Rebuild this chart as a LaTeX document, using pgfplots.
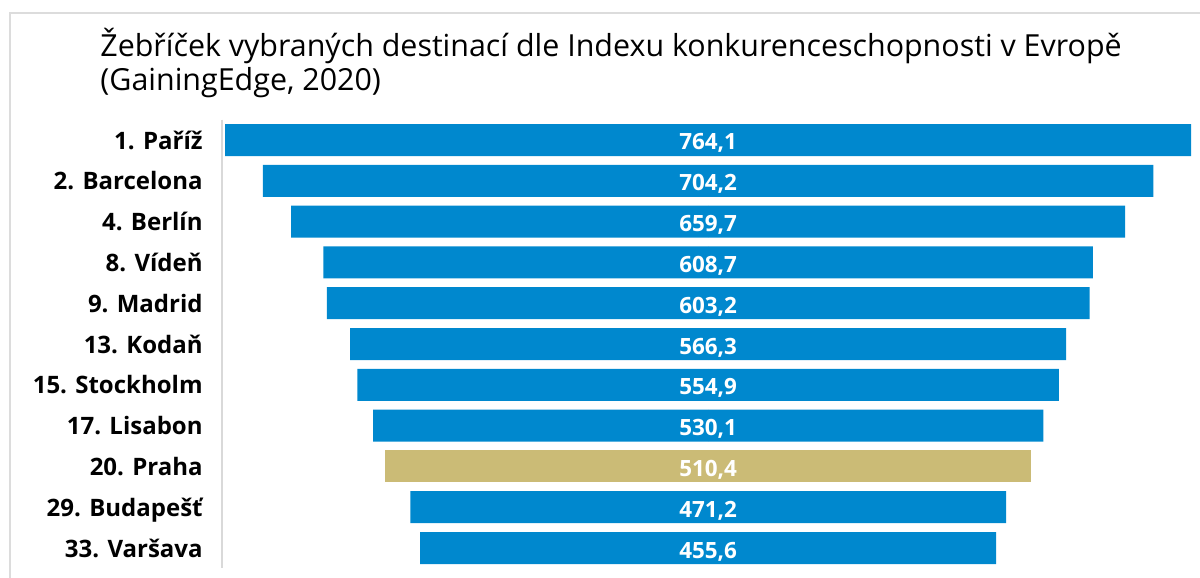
\documentclass[border=0pt]{standalone}
\usepackage{pgfplots}
\pgfplotsset{compat=1.18}
\usepackage{pgfplotstable}
\usepackage{fontspec}
\setmainfont{Open Sans}
\definecolor{barblue}{RGB}{0,136,206}
\definecolor{bargold}{RGB}{203,187,118}
\definecolor{framegray}{RGB}{220,220,220}
\definecolor{axisgray}{RGB}{217,217,217}
\pgfplotstableread{
i v
0 764.1
1 704.2
2 659.7
3 608.7
4 603.2
5 566.3
6 554.9
7 530.1
9 471.2
10 455.6
}\bluedata
\pgfplotstableread{
i v
8 510.4
}\golddata
\pgfplotstableread{
i v
0 764.1
1 704.2
2 659.7
3 608.7
4 603.2
5 566.3
6 554.9
7 530.1
8 510.4
9 471.2
10 455.6
}\alldata
\begin{document}
\begin{tikzpicture}
\useasboundingbox (0,0) rectangle (600pt,289pt);
\draw[framegray, line width=0.6pt] (5pt,0) -- (5pt,282.5pt) -- (600pt,282.5pt);
\node[anchor=base west, inner sep=0pt, font=\fontsize{15.2}{18}\selectfont] at (50pt,260.5pt) {Žebříček vybraných destinací dle Indexu konkurenceschopnosti v Evropě};
\node[anchor=base west, inner sep=0pt, font=\fontsize{15.2}{18}\selectfont] at (50pt,243.5pt) {(GainingEdge, 2020)};
\begin{axis}[
  at={(111pt,4.8pt)}, anchor=south west,
  scale only axis, width=489pt, height=224.4pt,
  xmin=-769, xmax=778, ymin=-0.5, ymax=10.5,
  y dir=reverse, clip=false,
  hide x axis,
  axis y line*=left,
  y axis line style={draw=axisgray, line width=1pt, -},
  ytick={0,...,10},
  yticklabels={1. Paříž, 2. Barcelona, 4. Berlín, 8. Vídeň, 9. Madrid, 13. Kodaň, 15. Stockholm, 17. Lisabon, 20. Praha, 29. Budapešť, 33. Varšava},
  major tick length=0pt,
  ytick style={draw=none},
  yticklabel style={font=\bfseries\fontsize{12}{14}\selectfont, anchor=base east, inner sep=0pt, xshift=-9.5pt, yshift=-4.5pt},
  /pgf/number format/assume math mode=true,
]
\addplot[xbar, bar width=16pt, bar shift=0pt, fill=barblue, draw=none] table[x expr=\thisrow{v}, y=i] {\bluedata};
\addplot[xbar, bar width=16pt, bar shift=0pt, fill=barblue, draw=none] table[x expr=-\thisrow{v}, y=i] {\bluedata};
\addplot[xbar, bar width=16pt, bar shift=0pt, fill=bargold, draw=none] table[x expr=\thisrow{v}, y=i] {\golddata};
\addplot[xbar, bar width=16pt, bar shift=0pt, fill=bargold, draw=none] table[x expr=-\thisrow{v}, y=i] {\golddata};
\addplot[draw=none, mark=none, point meta=explicit,
  nodes near coords={\pgfmathprintnumber[use comma, fixed, fixed zerofill, precision=1, assume math mode=true]{\pgfplotspointmeta}},
  nodes near coords style={anchor=base, yshift=-5pt, inner sep=0pt, text=white, font=\bfseries\fontsize{11.2}{13}\selectfont}]
  table[x expr=0, y=i, meta=v] {\alldata};
\end{axis}
\end{tikzpicture}
\end{document}
